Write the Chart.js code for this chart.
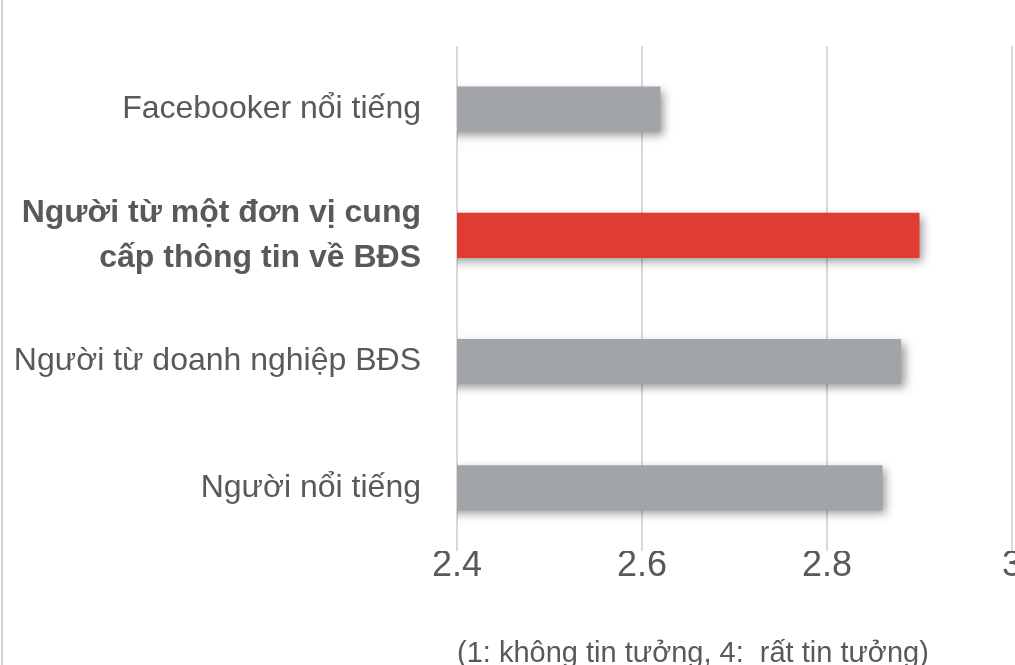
<!DOCTYPE html>
<html>
<head>
<meta charset="utf-8">
<script src="https://cdn.jsdelivr.net/npm/chart.js@4.4.1/dist/chart.umd.min.js"></script>
<style>
  html, body { margin: 0; padding: 0; background: #ffffff; overflow: hidden; }
  #page { position: relative; width: 1015px; height: 665px; overflow: hidden; background: #fff; }
  #wrap { position: absolute; left: 0; top: 0; width: 1015px; height: 665px; }
  #frameL { position: absolute; left: 1px; top: 0; width: 2px; height: 665px; background: #cfcfcf; }
</style>
</head>
<body>
<div id="page">
  <div id="wrap"><canvas id="c"></canvas></div>
  <div id="frameL"></div>
</div>
<script>
// ---- data ----
const categories = [
  'Facebooker nổi tiếng',
  ['Người từ một đơn vị cung', 'cấp thông tin về BĐS'],
  'Người từ doanh nghiệp BĐS',
  'Người nổi tiếng'
];
const trustScores = [2.62, 2.90, 2.88, 2.86];
const highlightIndex = 1;
const xTickValues = [2.4, 2.6, 2.8, 3];
const xTickLabels = ['2.4', '2.6', '2.8', '3'];
const axisNote = '(1: không tin tưởng, 4:  rất tin tưởng)';

const grayBar = '#A1A4A9';
const redBar = '#E03C32';
const textGray = '#595959';

const barShadow = {
  id: 'barShadow',
  beforeDatasetDraw(chart) {
    const ctx = chart.ctx;
    ctx.save();
    ctx.shadowColor = 'rgba(0,0,0,0.4)';
    ctx.shadowBlur = 9;
    ctx.shadowOffsetX = 4;
    ctx.shadowOffsetY = 4;
  },
  afterDatasetDraw(chart) {
    chart.ctx.restore();
  }
};

new Chart(document.getElementById('c'), {
  type: 'bar',
  data: {
    labels: categories,
    datasets: [{
      data: trustScores,
      backgroundColor: trustScores.map((v, i) => i === highlightIndex ? redBar : grayBar),
      borderWidth: 0,
      categoryPercentage: 1,
      barPercentage: 0.357
    }]
  },
  options: {
    indexAxis: 'y',
    responsive: true,
    maintainAspectRatio: false,
    animation: false,
    layout: { padding: { top: 46, left: 0, right: 0, bottom: 0 } },
    plugins: { legend: { display: false }, tooltip: { enabled: false } },
    scales: {
      x: {
        min: 2.4,
        max: 3,
        afterBuildTicks(axis) { axis.ticks = xTickValues.map(v => ({ value: v })); },
        grid: { color: '#D9D9D9', lineWidth: 2, drawTicks: false },
        border: { display: false },
        ticks: {
          color: textGray,
          font: { family: '"Liberation Sans", Arial, sans-serif', size: 36 },
          padding: -7,
          callback: (v, i) => xTickLabels[i]
        },
        title: {
          display: true,
          text: axisNote,
          align: 'start',
          color: textGray,
          font: { family: '"Liberation Sans", Arial, sans-serif', size: 29 },
          padding: { top: 56, bottom: -6 }
        }
      },
      y: {
        afterFit(axis) {
          axis.width = 457;
          axis.paddingTop = 0;
          axis.paddingBottom = 0;
        },
        grid: { display: false },
        border: { display: false },
        ticks: {
          color: textGray,
          padding: 28,
          font: (ctx) => ({
            family: '"Liberation Sans", Arial, sans-serif',
            size: 32,
            weight: ctx.index === highlightIndex ? 'bold' : 'normal',
            lineHeight: 1.4
          })
        }
      }
    }
  },
  plugins: [barShadow]
});
</script>
</body>
</html>
